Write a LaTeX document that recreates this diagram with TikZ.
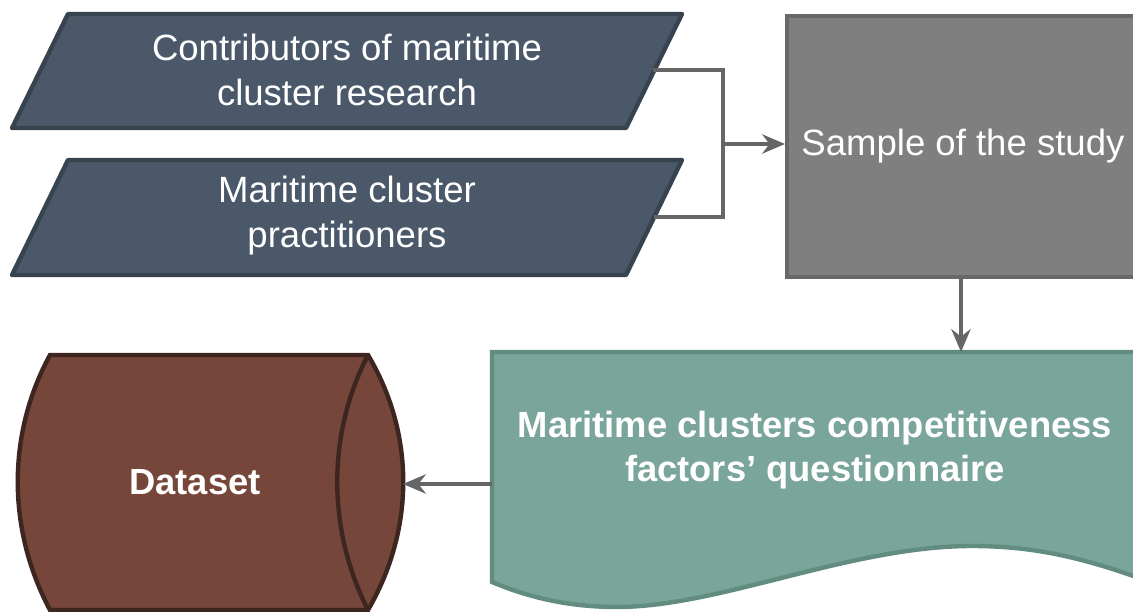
\documentclass[tikz,border=0pt]{standalone}
\usepackage{fontspec}
\setmainfont{Liberation Sans}
\usetikzlibrary{arrows.meta}

\definecolor{slate}{HTML}{4A5869}
\definecolor{slatedark}{HTML}{37444F}
\definecolor{boxgray}{HTML}{7F7F7F}
\definecolor{boxgraydark}{HTML}{686868}
\definecolor{teal}{HTML}{7AA59A}
\definecolor{tealdark}{HTML}{638C81}
\definecolor{brick}{HTML}{77463A}
\definecolor{brickdark}{HTML}{3D2620}
\definecolor{connline}{HTML}{666666}

\tikzset{inshape/.style={draw=slatedark,fill=slate,line width=2.5pt,line join=round}}
\tikzset{wtext/.style={text=white,align=center,font=\fontsize{20.8}{25.6}\selectfont}}
\tikzset{btext/.style={wtext,font=\fontsize{20.7}{25}\selectfont\bfseries}}
\tikzset{conn/.style={draw=connline,line width=2.2pt,-{Stealth[length=13pt,width=11pt]}}}

\begin{document}
\begin{tikzpicture}[x=0.02cm,y=-0.02cm]
        \useasboundingbox (0,0) rectangle (1133,612);
        % input parallelograms
        \draw[inshape] (68,14) -- (682,14) -- (626,128) -- (12,128) -- cycle;
        \draw[inshape] (68,160) -- (682,160) -- (626,275) -- (12,275) -- cycle;
        \node[wtext] (contrib) at (347,70) {Contributors of maritime\\cluster research};
        \node[wtext] (practit) at (347,216) {Maritime cluster\\practitioners};
        \coordinate (contribe) at (653,70);
        \coordinate (practite) at (654,217);
        \coordinate (junc) at (723,144);
        
        % sample box
        \node[draw=boxgraydark,fill=boxgray,line width=2.2pt,minimum width=352*0.02cm,minimum height=261*0.02cm,
              anchor=north west,wtext] (sample) at (785,14) {Sample of the study};
        
        % questionnaire (document shape)
        \draw[draw=tealdark,fill=teal,line width=2.5pt] (492,352) -- (1150,352) -- (1150,582)
            .. controls (1080,556) and (1030,546) .. (972,546)
            .. controls (850,546) and (720,607) .. (617,607)
            .. controls (570,607) and (530,598) .. (492,582) -- cycle;
        \node[btext] (quest) at (815,450) {Maritime clusters competitiveness\\factors’ questionnaire};
        \coordinate (questn) at (961,352);
        \coordinate (questw) at (492,484);
        
        % dataset cylinder
        \draw[draw=brickdark,fill=brick,line width=2.5pt] (50,355) -- (368,355)
            .. controls (415,434) and (415,529) .. (368,610) -- (50,610)
            .. controls (7,529) and (7,434) .. (50,355) -- cycle;
        \draw[draw=brickdark,line width=2.5pt] (368,355) .. controls (327,434) and (327,529) .. (368,610);
        \node[btext] (dataset) at (195,482) {Dataset};
        \coordinate (datasete) at (403,484);
        
        % connectors
        \draw[conn,-] (contribe) -| (junc) |- (practite);
        \draw[conn] (junc) -- (sample.west |- junc);
        \draw[conn] (sample.south -| questn) -- (questn);
        \draw[conn] (questw) -- (datasete);
    \end{tikzpicture}
\end{document}
